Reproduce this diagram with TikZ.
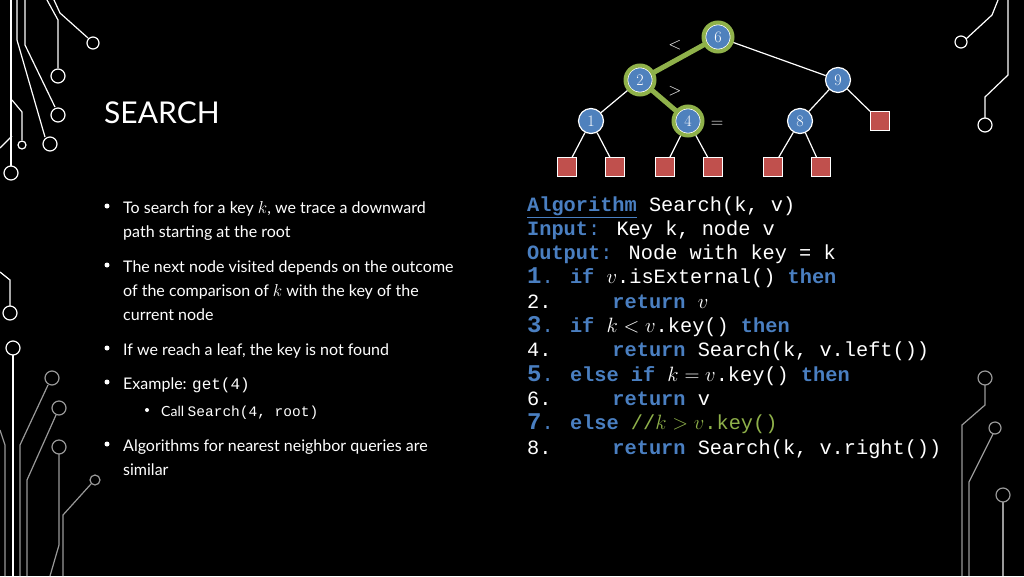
\documentclass[tikz,border=0pt]{standalone}
\usepackage{fontspec}
\setsansfont{Lato}
\setmonofont{Liberation Mono}
\newfontfamily\codefont{Liberation Mono}
\usepackage{xcolor}
\definecolor{kw}{HTML}{4A7FC1}
\definecolor{grn}{HTML}{8FB14A}
\definecolor{nodeblue}{HTML}{4F81BD}
\definecolor{leafred}{HTML}{C0504D}
\newcommand{\kwd}[1]{\textcolor{kw}{\textbf{#1}}}
\newcommand{\bnum}[1]{\textcolor{kw}{\textbf{\fontsize{24}{24}\selectfont #1}}}
\begin{document}
\begin{tikzpicture}[x=1pt,y=-1pt,
  inner/.style={circle,fill=nodeblue,draw=white,line width=1.2pt,minimum size=25pt,inner sep=0pt,font=\fontsize{16}{16}\selectfont,text=white},
  leaf/.style={rectangle,fill=leafred,draw=white,line width=1pt,minimum size=19pt,inner sep=0pt},
  edge/.style={draw=white,line width=1.2pt},
  hl/.style={draw=grn,line width=5pt},
  circ/.style={draw=white,line width=1.2pt},
  circg/.style={draw=gray!80,line width=1.2pt},
  code/.style={anchor=base west,inner sep=0pt,text=white,font=\codefont\fontsize{20.3}{24}\selectfont},
  btxt/.style={anchor=base west,inner sep=0pt,text=white,font=\sffamily\fontsize{16}{24}\selectfont},
  dot/.style={circle,fill=white,inner sep=0pt,minimum size=5pt}]
\fill[black] (0,0) rectangle (1024,576);
\useasboundingbox (0,0) rectangle (1024,576);
% circuit left top
\draw[circ] (11,0)--(11,166); \draw[circ] (11,173) circle (7);
\draw[circ] (17,0)--(17,40)--(45,137); \draw[circ] (50,144) circle (7);
\draw[circ] (25,0)--(25,45)--(55,107); \draw[circ] (58,115) circle (7);
\draw[circ] (47,0)--(58,20)--(58,68); \draw[circ] (58,76) circle (7);
\draw[circ] (54,0)--(60,13)--(88,38); \draw[circ] (93,43) circle (6);
\draw[circ] (12,100)--(22,112)--(22,140); \draw[circ] (22,145) circle (4);
\draw[circ] (0,148)--(12,136);
% circuit left bottom
\draw[circ] (0,272)--(10,280)--(10,306); \draw[circ] (10,313) circle (7);
\draw[circ] (13,355)--(13,576); \draw[circ] (13,348) circle (7);
\draw[circg] (48,385)--(20,445)--(20,576); \draw[circg] (52,378) circle (7);
\draw[circg] (56,415)--(27,480)--(27,576); \draw[circg] (59,408) circle (7);
\draw[circg] (59,454)--(59,545)--(50,576); \draw[circg] (59,447) circle (7);
\draw[circg] (91,484)--(63,515)--(63,576); \draw[circg] (95,480) circle (5);
\draw[circg] (0,430)--(5,445)--(5,576);
% circuit right
\draw[circ] (998,0)--(992,15)--(966,39); \draw[circ] (961,42) circle (6);
\draw[circ] (1008,0)--(1008,75)--(985,97)--(985,118); \draw[circ] (985,125) circle (7);
\draw[circg] (985,385)--(985,405)--(962,425)--(962,576); \draw[circg] (985,378) circle (7);
\draw[circg] (993,434)--(969,482)--(969,576); \draw[circg] (995,428) circle (6);
\draw[circg] (1003,502)--(1003,576); \draw[circg] (1003,495) circle (7);
% title
\node[anchor=base west,inner sep=0pt,text=white,font=\sffamily\fontsize{30}{30}\selectfont] (title) at (104,123) {SEARCH};
% tree
\node[inner] (n6) at (718,37) {6};
\node[inner] (n2) at (640,80) {2};
\node[inner] (n9) at (838,80) {9};
\node[inner] (n1) at (591,121) {1};
\node[inner] (n4) at (688,121) {4};
\node[inner] (n8) at (800,121) {8};
\node[leaf] (l9) at (880,121) {};
\node[leaf] (a) at (567,167) {};
\node[leaf] (b) at (615,167) {};
\node[leaf] (c) at (665,167) {};
\node[leaf] (d) at (713,167) {};
\node[leaf] (e) at (773,167) {};
\node[leaf] (f) at (821,167) {};
\draw[edge] (n6)--(n9); \draw[edge] (n2)--(n1);
\draw[edge] (n9)--(n8); \draw[edge] (n9)--(l9);
\draw[edge] (n1)--(a); \draw[edge] (n1)--(b);
\draw[edge] (n4)--(c); \draw[edge] (n4)--(d);
\draw[edge] (n8)--(e); \draw[edge] (n8)--(f);
\draw[hl] (n6)--(n2); \draw[hl] (n2)--(n4);
\foreach \n in {n6,n2,n4} \draw[grn,line width=4pt] (\n) circle (14.5);
\node[text=white,font=\fontsize{16}{16}\selectfont] (lt) at (675,45) {$<$};
\node[text=white,font=\fontsize{16}{16}\selectfont] (gt) at (675,91) {$>$};
\node[text=white,font=\fontsize{16}{16}\selectfont] (eq) at (717,124) {$=$};
% bullets
\foreach \y in {206,265,348,382,444} \node[dot] at (107,\y) {};
\node[circle,fill=white,inner sep=0pt,minimum size=4pt] at (147,410) {};
\node[btxt] (t1) at (123,213) {To search for a key $k$, we trace a downward};
\node[btxt] (t2) at (123,237) {path starting at the root};
\node[btxt] (t3) at (123,272) {The next node visited depends on the outcome};
\node[btxt] (t4) at (123,296) {of the comparison of $k$ with the key of the};
\node[btxt] (t5) at (123,320) {current node};
\node[btxt] (t6) at (123,355) {If we reach a leaf, the key is not found};
\node[btxt] (t7) at (123,389) {Example: {\codefont\fontsize{16}{16}\selectfont get(4)}};
\node[btxt,font=\sffamily\fontsize{14}{20}\selectfont] (t8) at (161,416) {Call {\codefont\fontsize{14.5}{16}\selectfont Search(4, root)}};
\node[btxt] (t9) at (123,451) {Algorithms for nearest neighbor queries are};
\node[btxt] (t10) at (123,475) {similar};
% code
\node[code] (c0) at (527,211) {\kwd{\underline{Algorithm}} Search(k, v)};
\node[code] (c1) at (527,235) {\kwd{Input}\textcolor{kw}{:} Key k, node v};
\node[code] (c2) at (527,259) {\kwd{Output}\textcolor{kw}{:} Node with key = k};
\node[code] (c3) at (527,283) {\bnum{1}\textcolor{kw}{.} \kwd{if} $v$.isExternal() \kwd{then}};
\node[code] (c4) at (527,308) {2.\ \ \ \ \ \kwd{return} $v$};
\node[code] (c5) at (527,332) {\bnum{3}\textcolor{kw}{.} \kwd{if} $k<v$.key() \kwd{then}};
\node[code] (c6) at (527,356) {4.\ \ \ \ \ \kwd{return} Search(k, v.left())};
\node[code] (c7) at (527,381) {\bnum{5}\textcolor{kw}{.} \kwd{else if} $k=v$.key() \kwd{then}};
\node[code] (c8) at (527,405) {6.\ \ \ \ \ \kwd{return} v};
\node[code] (c9) at (527,429) {\bnum{7}\textcolor{kw}{.} \kwd{else} \textcolor{grn}{//$k>v$.key()}};
\node[code] (c10) at (527,454) {8.\ \ \ \ \ \kwd{return} Search(k, v.right())};
\end{tikzpicture}
\end{document}
